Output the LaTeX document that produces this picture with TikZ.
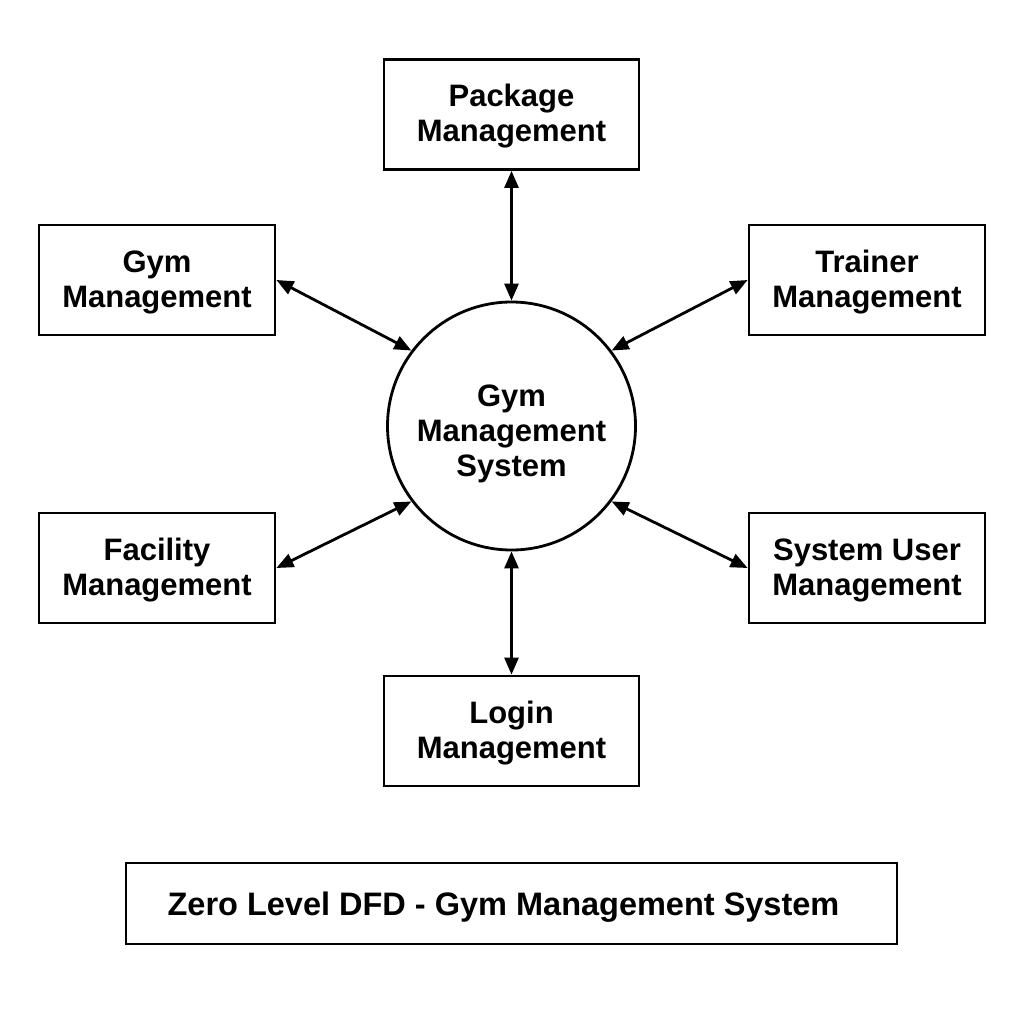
\documentclass[tikz,border=0pt]{standalone}
\usepackage{fontspec}
\setmainfont{Liberation Sans}
\usetikzlibrary{arrows.meta}
\newcommand{\shiftlines}[2]{\raisebox{-#1}[\height][\depth]{\begin{tabular}{@{}c@{}}#2\end{tabular}}}
\begin{document}
\begin{tikzpicture}[x=1pt,y=1pt,
  lw/.style={line width=2.8pt},
  bigbox/.style={draw,lw,rectangle,minimum width=255pt,minimum height=110pt,inner sep=0pt,
    font=\bfseries\fontsize{31}{35}\selectfont},
  sidebox/.style={bigbox,minimum width=236pt},
  proc/.style={draw,lw,circle,minimum size=248pt,inner sep=0pt,
    font=\bfseries\fontsize{31}{35}\selectfont},
  flow/.style={lw,{Triangle[length=17pt,width=14pt]}-{Triangle[length=17pt,width=14pt]}}]
\useasboundingbox[fill=white] (0,0) rectangle (1024,-1024);
\node[proc] (c) at (511.5,-426) {\shiftlines{8pt}{Gym\\Management\\System}};
\node[bigbox] (pkg) at (511.5,-114.5) {\shiftlines{3pt}{Package\\Management}};
\node[bigbox] (log) at (511.5,-731) {\shiftlines{3pt}{Login\\Management}};
\node[sidebox] (gym) at (157,-280) {\shiftlines{3pt}{Gym\\Management}};
\node[sidebox] (trn) at (867,-280) {\shiftlines{3pt}{Trainer\\Management}};
\node[sidebox] (fac) at (157,-568) {\shiftlines{3pt}{Facility\\Management}};
\node[sidebox] (sys) at (867,-568) {\shiftlines{3pt}{System User\\Management}};
\node[draw,lw,minimum width=771pt,minimum height=81pt,inner sep=0pt,
  font=\bfseries\fontsize{32.5}{38}\selectfont] (title) at (511.5,-903.5)
  {\raisebox{-4pt}[\height][\depth]{\hspace*{-8pt}Zero Level DFD - Gym Management System\hspace*{8pt}}};
\draw[flow] (pkg.south) -- (c.north);
\draw[flow] (log.north) -- (c.south);
\draw[flow] (gym.east) -- (c.143);
\draw[flow] (trn.west) -- (c.37);
\draw[flow] (fac.east) -- (c.217);
\draw[flow] (sys.west) -- (c.323);
\end{tikzpicture}
\end{document}
